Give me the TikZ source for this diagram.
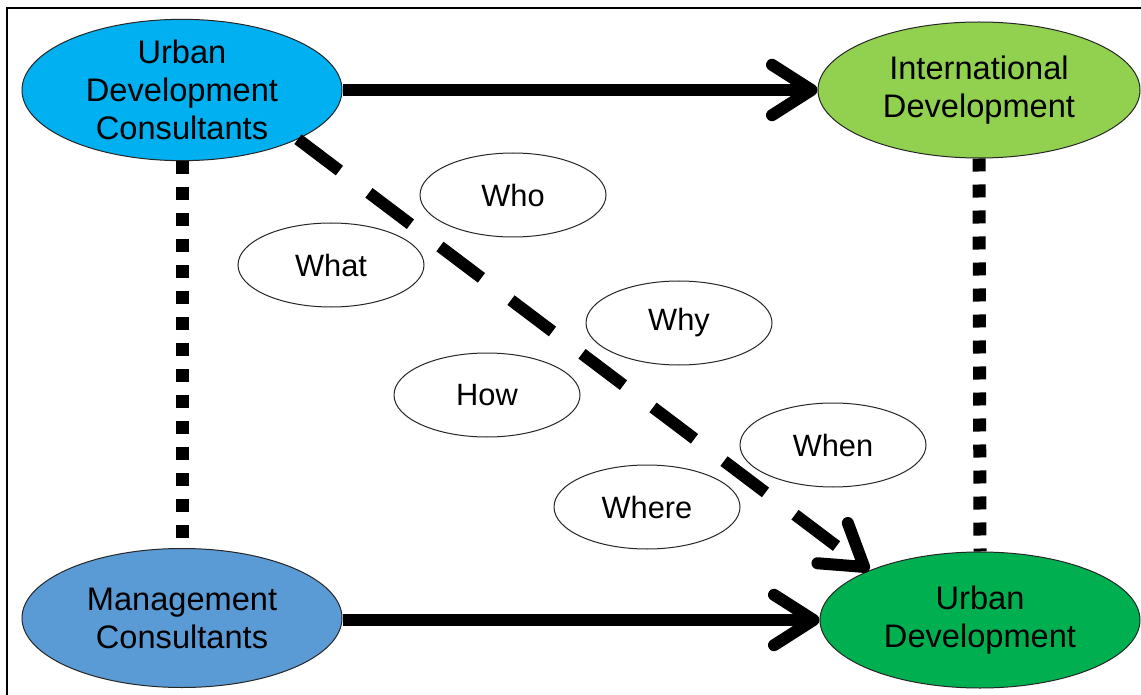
\documentclass[tikz,border=0pt]{standalone}
\usepackage{fontspec}
\setmainfont{Liberation Sans}
\usetikzlibrary{shapes.geometric,calc}
\definecolor{udccol}{HTML}{00B0F0}
\definecolor{idcol}{HTML}{92D050}
\definecolor{mccol}{HTML}{5B9BD5}
\definecolor{udcol}{HTML}{00B050}
\tikzset{
  bigell/.style={ellipse, draw=black!85, line width=1pt, inner sep=0pt,
    minimum width=320pt, minimum height=136pt, align=center,
    font=\fontsize{32.6}{38}\selectfont},
  qell/.style={ellipse, draw=black!85, line width=1pt, fill=white, inner sep=0pt,
    minimum width=186pt, minimum height=84pt,
    font=\fontsize{30.8}{36}\selectfont},
  flowline/.style={line width=12pt, shorten >=6pt},
  dashedline/.style={line width=12pt, dash pattern=on 52pt off 37pt, shorten >=6pt},
  barb/.style={line width=12pt, line cap=round, line join=round},
  dottedlink/.style={line width=13pt, dash pattern=on 13pt off 13pt},
  framestyle/.style={line width=2pt, black}
}
\begin{document}
\begin{tikzpicture}[x=1pt, y=-1pt]
\useasboundingbox (0,0) rectangle (1141,695);
\fill[white] (0,0) rectangle (1141,695);
\draw[framestyle] (7,696) -- (7,8) -- (1142,8);

\node[bigell, fill=udccol] (udc) at (182,90) {Urban\\Development\\Consultants};
\node[bigell, fill=idcol, minimum width=322pt] (id) at (979,90) {International\\Development};
\node[bigell, fill=mccol, minimum height=139pt] (mc) at (182,618) {Management\\Consultants};
\node[bigell, fill=udcol] (ud) at (980,620) {Urban\\Development};

\draw[dottedlink] (udc.south) -- (mc.north);
\draw[dottedlink] (id.south) -- (ud.north);

% top arrow
\draw[flowline] (udc.east) -- (id.west);
\draw[barb] ($(id.west)!52pt!29:(udc.east)$) -- ($(id.west)!6pt!(udc.east)$) -- ($(id.west)!52pt!-29:(udc.east)$);
% bottom arrow
\coordinate (mcstart) at (mc.east |- ud.west);
\draw[flowline] (mcstart) -- (ud.west);
\draw[barb] ($(ud.west)!52pt!29:(mcstart)$) -- ($(ud.west)!6pt!(mcstart)$) -- ($(ud.west)!52pt!-29:(mcstart)$);
% dashed diagonal arrow
\draw[dashedline] (udc.-23) -- (ud.156);
\draw[barb] ($(ud.156)!52pt!29:(udc.-23)$) -- ($(ud.156)!6pt!(udc.-23)$) -- ($(ud.156)!52pt!-29:(udc.-23)$);

\node[qell] (who) at (513,195) {Who};
\node[qell] (what) at (331,265) {What};
\node[qell] (why) at (679,323) {Why};
\node[qell] (how) at (487,395) {How};
\node[qell] (when) at (833,445) {When};
\node[qell] (where) at (647,507) {Where};
\end{tikzpicture}
\end{document}
